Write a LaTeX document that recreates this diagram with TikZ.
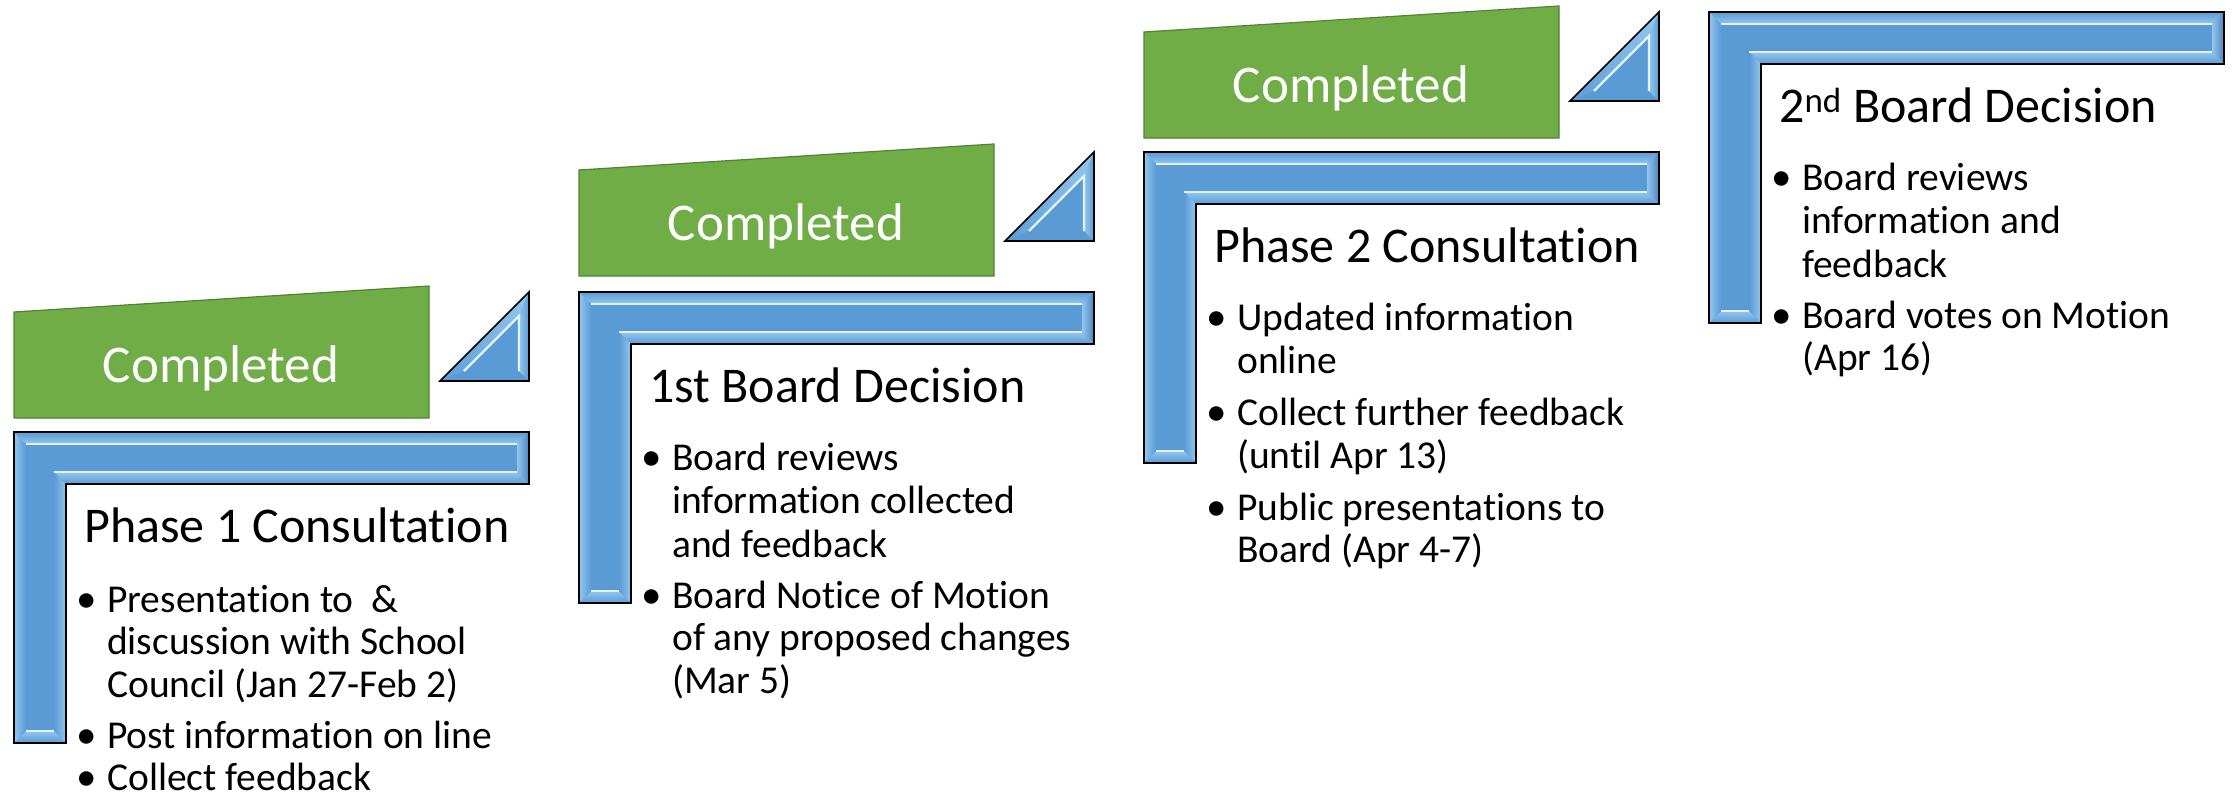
\documentclass[tikz,border=0pt]{standalone}
\usepackage{fontspec}
\setmainfont{Carlito}[Ligatures={NoCommon}]
\definecolor{bbase}{HTML}{5B9BD5}
\definecolor{blight}{HTML}{E3F3FD}
\definecolor{bmid}{HTML}{93C6EE}
\definecolor{bdark}{HTML}{4A85BD}
\definecolor{gfill}{HTML}{70AD47}
\definecolor{gline}{HTML}{548235}
\tikzset{
  heading/.style={anchor=base west, inner sep=0pt, font=\fontsize{50}{60}\selectfont},
  btext/.style={anchor=base west, inner sep=0pt, font=\fontsize{39.5}{43}\selectfont},
  bdot/.style={anchor=base, inner sep=0pt, font=\fontsize{41}{45}\selectfont},
  donelabel/.style={anchor=base, inner sep=0pt, text=white, font=\fontsize{53}{60}\selectfont},
  gbox/.style={fill=gfill, draw=gline, line width=1.2pt, line join=miter},
  outl/.style={draw=black, line width=1.6pt, line join=miter},
  hl/.style={draw=blight, line width=2.4pt},
}
\newcommand{\lframe}{%
 \fill[bbase] (0,0)--(515,0)--(515,52)--(52,52)--(52,311)--(0,311)--cycle;
 \shade[top color=bbase, bottom color=bmid] (0,0)--(515,0)--(503,12)--(12,12)--cycle;
 \shade[left color=bmid, right color=bdark] (515,0)--(515,52)--(503,40)--(503,12)--cycle;
 \shade[top color=bmid, bottom color=bbase] (515,52)--(52,52)--(40,40)--(503,40)--cycle;
 \shade[left color=bbase, right color=bmid] (52,52)--(52,311)--(40,299)--(40,40)--cycle;
 \shade[top color=bmid, bottom color=bbase] (52,311)--(0,311)--(12,299)--(40,299)--cycle;
 \shade[left color=bmid, right color=bbase] (0,311)--(0,0)--(12,12)--(12,299)--cycle;
 \draw[hl] (12,12)--(503,12);
 \draw[hl] (40,40)--(503,40);
 \draw[hl] (12,299)--(40,299);
 \draw[outl] (0,0)--(515,0)--(515,52)--(52,52)--(52,311)--(0,311)--cycle;
}
\newcommand{\bevtri}{%
 \fill[bbase] (0,89)--(89,89)--(89,0)--cycle;
 \shade[left color=bbase, right color=bmid] (0,89)--(89,0)--(79,24)--(24,79)--cycle;
 \shade[left color=bmid, right color=bbase] (89,0)--(89,89)--(79,79)--(79,24)--cycle;
 \draw[hl] (24,79)--(79,24)--(79,79);
 \draw[outl] (0,89)--(89,89)--(89,0)--cycle;
}
\begin{document}
\begin{tikzpicture}[x=1pt,y=-1pt]
\useasboundingbox (0,0) rectangle (2236,804);
\fill[white] (0,0) rectangle (2236,804);

% Panel 1
\begin{scope}[shift={(14,432)}]
 \draw[gbox] (0,-120)--(415,-146)--(415,-14)--(0,-14)--cycle;
 \node[donelabel] (p1done) at (207,-50) {Completed};
 \begin{scope}[shift={(426,-140)}] \bevtri \end{scope}
 \lframe
 \node[heading] (p1head) at (70,110) {Phase 1 Consultation};
 \node[bdot] (p1d1) at (73,180) {\textbullet};
 \node[btext] (p1l1) at (93,180) {Presentation to\ \ \&};
 \node[btext] (p1l2) at (93,222) {discussion with School};
 \node[btext] (p1l3) at (93,265) {Council (Jan 27-Feb 2)};
 \node[bdot] (p1d2) at (73,316) {\textbullet};
 \node[btext] (p1l4) at (93,316) {Post information on line};
 \node[bdot] (p1d3) at (73,358) {\textbullet};
 \node[btext] (p1l5) at (93,358) {Collect feedback};
\end{scope}

% Panel 2
\begin{scope}[shift={(579,292)}]
 \draw[gbox] (0,-122)--(415,-148)--(415,-16)--(0,-16)--cycle;
 \node[donelabel] (p2done) at (207,-52) {Completed};
 \begin{scope}[shift={(426,-140)}] \bevtri \end{scope}
 \lframe
 \node[heading] (p2head) at (70,110) {1st Board Decision};
 \node[bdot] (p2d1) at (73,178) {\textbullet};
 \node[btext] (p2l1) at (93,178) {Board reviews};
 \node[btext] (p2l2) at (93,221) {information collected};
 \node[btext] (p2l3) at (93,265) {and feedback};
 \node[bdot] (p2d2) at (73,316) {\textbullet};
 \node[btext] (p2l4) at (93,316) {Board Notice of Motion};
 \node[btext] (p2l5) at (93,358) {of any proposed changes};
 \node[btext] (p2l6) at (93,401) {(Mar 5)};
\end{scope}

% Panel 3
\begin{scope}[shift={(1144,152)}]
 \draw[gbox] (0,-120)--(415,-146)--(415,-14)--(0,-14)--cycle;
 \node[donelabel] (p3done) at (207,-50) {Completed};
 \begin{scope}[shift={(426,-140)}] \bevtri \end{scope}
 \lframe
 \node[heading] (p3head) at (70,110) {Phase 2 Consultation};
 \node[bdot] (p3d1) at (73,178) {\textbullet};
 \node[btext] (p3l1) at (93,178) {Updated information};
 \node[btext] (p3l2) at (93,221) {online};
 \node[bdot] (p3d2) at (73,273) {\textbullet};
 \node[btext] (p3l3) at (93,273) {Collect further feedback};
 \node[btext] (p3l4) at (93,316) {(until Apr 13)};
 \node[bdot] (p3d3) at (73,368) {\textbullet};
 \node[btext] (p3l5) at (93,368) {Public presentations to};
 \node[btext] (p3l6) at (93,410) {Board (Apr 4-7)};
\end{scope}

% Panel 4
\begin{scope}[shift={(1709,12)}]
 \lframe
 \node[heading] (p4head) at (70,110) {2\textsuperscript{nd} Board Decision};
 \node[bdot] (p4d1) at (73,178) {\textbullet};
 \node[btext] (p4l1) at (93,178) {Board reviews};
 \node[btext] (p4l2) at (93,221) {information and};
 \node[btext] (p4l3) at (93,265) {feedback};
 \node[bdot] (p4d2) at (73,316) {\textbullet};
 \node[btext] (p4l4) at (93,316) {Board votes on Motion};
 \node[btext] (p4l5) at (93,358) {(Apr 16)};
\end{scope}
\end{tikzpicture}
\end{document}
